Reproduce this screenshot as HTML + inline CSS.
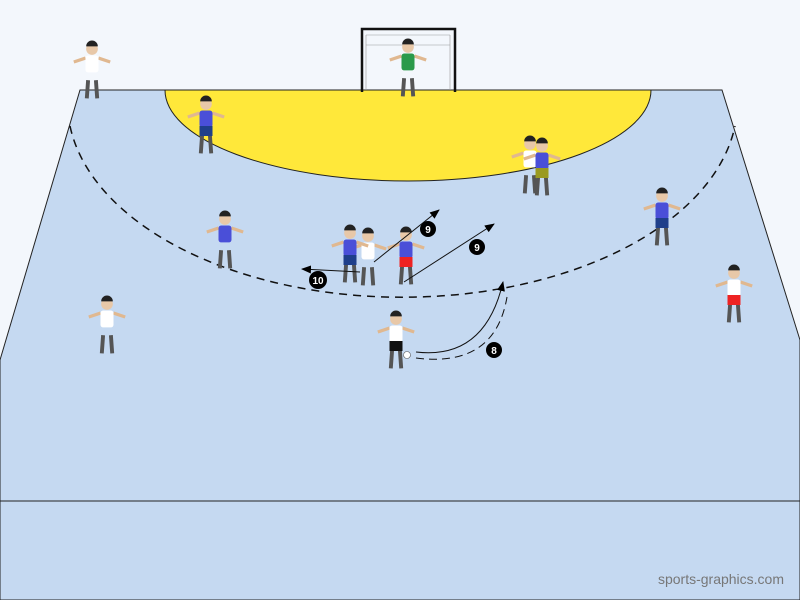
<!DOCTYPE html>
<html><head><style>body{margin:0;background:#f3f7fc}svg{display:block}</style></head><body>
<svg width="800" height="600" viewBox="0 0 800 600" xmlns="http://www.w3.org/2000/svg" font-family="Liberation Sans, sans-serif">
<defs>
<marker id="a" markerWidth="10" markerHeight="8" refX="9" refY="4" orient="auto" markerUnits="userSpaceOnUse"><path d="M0,0 L10,4 L0,8 z" fill="#000"/></marker>
<g id="p" transform="scale(1.3)"><path d="M-5,-23 L-14,-20 M5,-23 L14,-20" stroke="#e0b890" stroke-width="2.5"/><circle cx="0" cy="-30" r="4.5" fill="#e8c8a8"/><path d="M-4.5,-32 a4.5,4.5 0 0 1 9,0z" fill="#222"/><rect x="-5" y="-25" width="10" height="13" rx="2"/><path d="M-3,-6 L-4,8 M3,-6 L4,8" stroke="#555" stroke-width="3"/></g>
</defs>
<rect width="800" height="600" fill="#f3f7fc"/>
<polygon points="80,90 722,90 800,340 800,600 0,600 0,360" fill="#c5d9f1" stroke="#222" stroke-width="1"/>
<line x1="0" y1="501" x2="800" y2="501" stroke="#222"/>
<path d="M165,90 A243,91 0 0 0 651,90 Z" fill="#ffe83a" stroke="#222"/>
<path d="M70,126 A335,195 0 0 0 735,126" fill="none" stroke="#111" stroke-width="1.5" stroke-dasharray="8,6"/>
<g stroke="#111" stroke-width="2.5" fill="none"><path d="M362,92 V29 H455 V92"/></g>
<g stroke="#999" stroke-width="0.6"><path d="M366,35 H450 M366,35 V90 M450,35 V90 M366,45 L450,45"/></g>
<g fill="#2a9a4a"><use href="#p" x="408" y="86"/></g>
<g fill="#fff"><use href="#p" x="92" y="88"/><use href="#p" x="107" y="343"/><use href="#p" x="530" y="183"/><use href="#p" x="368" y="275"/><use href="#p" x="396" y="358"/><use href="#p" x="734" y="312"/></g>
<g fill="#4a4fd8"><use href="#p" x="206" y="143"/><use href="#p" x="225" y="258"/><use href="#p" x="350" y="272"/><use href="#p" x="406" y="274"/><use href="#p" x="542" y="185"/><use href="#p" x="662" y="235"/></g>
<g fill="#1f3f8a"><rect x="199.5" y="126" width="13" height="10"/><rect x="343.5" y="255" width="13" height="10"/><rect x="655.5" y="218" width="13" height="10"/></g>
<rect x="727.5" y="295" width="13" height="10" fill="#e22"/>
<rect x="389.5" y="341" width="13" height="10" fill="#111"/>
<rect x="399.5" y="257" width="13" height="10" fill="#e22"/>
<rect x="535.5" y="168" width="13" height="10" fill="#9a9a20"/>
<circle cx="407" cy="355" r="3.5" fill="#fff" stroke="#555" stroke-width="0.6"/>
<g stroke="#111" stroke-width="1" fill="none">
<line x1="374" y1="262" x2="439" y2="210" marker-end="url(#a)"/>
<line x1="404" y1="282" x2="494" y2="224" marker-end="url(#a)"/>
<line x1="360" y1="272" x2="302" y2="269" marker-end="url(#a)"/>
<path d="M416,352 Q485,360 503,282" marker-end="url(#a)"/>
<path d="M416,358 Q495,368 507,297" stroke-dasharray="8,5"/>
</g>
<g font-size="10" fill="#fff" text-anchor="middle" font-weight="bold">
<circle cx="428" cy="229" r="8" fill="#000"/><text x="428" y="233">9</text>
<circle cx="477" cy="247" r="8" fill="#000"/><text x="477" y="251">9</text>
<circle cx="318" cy="280" r="9" fill="#000"/><text x="318" y="284">10</text>
<circle cx="494" cy="350" r="8" fill="#000"/><text x="494" y="354">8</text>
</g>
<text x="784" y="584" font-size="14" fill="#777" text-anchor="end">sports-graphics.com</text>
</svg>
</body></html>
